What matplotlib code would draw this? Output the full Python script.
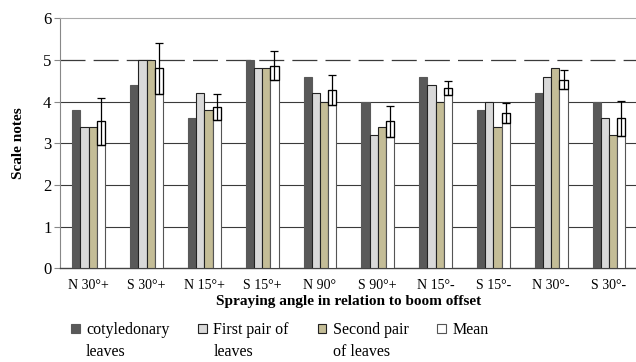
import numpy as np
import matplotlib
matplotlib.use("Agg")
import matplotlib.pyplot as plt
from matplotlib.patches import Patch

plt.rcParams['font.family'] = ['Liberation Serif', 'DejaVu Serif']

# data
angles = ['N 30°+', 'S 30°+', 'N 15°+', 'S 15°+', 'N 90°',
          'S 90°+', 'N 15°-', 'S 15°-', 'N 30°-', 'S 30°-']
cotyledonary = [3.8, 4.4, 3.6, 5.0, 4.6, 4.0, 4.6, 3.8, 4.2, 4.0]
first_pair = [3.4, 5.0, 4.2, 4.8, 4.2, 3.2, 4.4, 4.0, 4.6, 3.6]
second_pair = [3.4, 5.0, 3.8, 4.8, 4.0, 3.4, 4.0, 3.4, 4.8, 3.2]
mean_vals = [3.53, 4.80, 3.87, 4.87, 4.27, 3.53, 4.33, 3.73, 4.53, 3.60]
mean_err = [0.56, 0.62, 0.31, 0.35, 0.36, 0.37, 0.16, 0.24, 0.23, 0.42]

legend_labels = ['cotyledonary\nleaves', 'First pair of\nleaves',
                 'Second pair\nof leaves', 'Mean']
colors = ['#595959', '#d9d9d9', '#c4bd97', '#ffffff']
edges = ['#595959', '#222222', '#222222', '#555555']

fig = plt.figure(figsize=(6.36, 3.62), dpi=100)
ax = fig.add_axes([0.094, 0.259, 0.909, 0.690])

x = np.arange(len(angles))
w = 0.142
series = [cotyledonary, first_pair, second_pair, mean_vals]
for i, vals in enumerate(series):
    ax.bar(x + (i - 1.5) * w, vals, width=w, color=colors[i],
           edgecolor=edges[i], linewidth=0.8, zorder=3)

# box + whiskers on the mean bars
mv = np.array(mean_vals)
me = np.array(mean_err)
ax.bar(x + 1.5 * w, me, bottom=mv - me, width=w, fill=False,
       edgecolor='black', linewidth=0.9, zorder=4)
ax.errorbar(x + 1.5 * w, mv, yerr=me, fmt='none', ecolor='black',
            elinewidth=0.9, capsize=3, capthick=0.9, zorder=5)

ax.set_xlim(-0.5, len(angles) - 0.5)
ax.set_ylim(0, 6)
ax.set_yticks(range(7))
ax.set_xticks(x)
ax.set_xticklabels(angles, fontsize=10)
ax.tick_params(axis='x', length=0, pad=7.5)
ax.tick_params(axis='y', length=4, width=0.8, color='#888888', labelsize=12, pad=2)

# solid grid, the line at 5 is dashed, top line is the light frame
ax.yaxis.grid(True, color='#3a3a3a', linewidth=0.8, zorder=0)
glines = ax.get_ygridlines()
glines[0].set_visible(False)
glines[-1].set_visible(False)
glines[5].set_linestyle((0, (20, 6.5)))
glines[5].set_linewidth(0.9)
ax.set_axisbelow(True)

ax.spines['right'].set_visible(False)
ax.spines['top'].set_color('#aaaaaa')
ax.spines['left'].set_color('#888888')
ax.spines['bottom'].set_color('#444444')
ax.spines['bottom'].set_linewidth(1.0)

ax.set_xlabel('Spraying angle in relation to boom offset', fontsize=11,
              fontweight='bold', labelpad=2.5)
ax.set_ylabel('Scale notes', fontsize=11, fontweight='bold', labelpad=13)

# legend: label first line with marker, second line with a blank handle
handles, labels = [], []
blank = Patch(facecolor='none', edgecolor='none')
for lab, c, e in zip(legend_labels, colors, edges):
    parts = lab.split('\n') + ['']
    handles += [Patch(facecolor=c, edgecolor=e, linewidth=0.8), blank]
    labels += [parts[0], parts[1]]
fig.legend(handles, labels, ncol=4, loc='center', bbox_to_anchor=(0.44, 0.058),
           frameon=False, fontsize=11.5, handlelength=0.55, handleheight=0.55,
           handletextpad=0.4, columnspacing=1.8, labelspacing=0.36,
           borderpad=0, borderaxespad=0)

fig.savefig('out.png', dpi=100)
